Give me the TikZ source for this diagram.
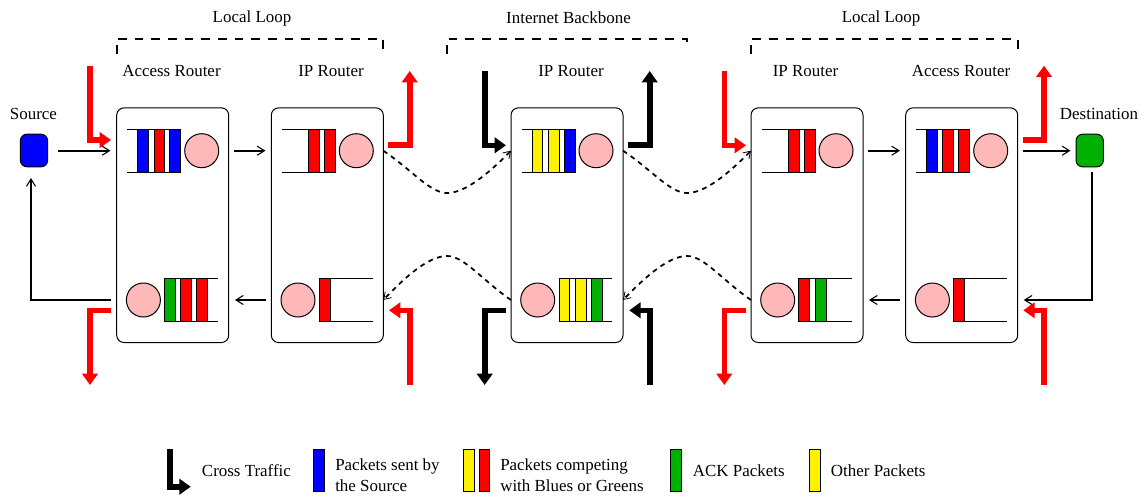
\documentclass[tikz,border=0pt]{standalone}
\usepackage{fontspec}
\setmainfont{Liberation Serif}
\usetikzlibrary{arrows.meta}
\definecolor{pk}{RGB}{255,184,184}
\definecolor{gr}{RGB}{0,176,0}
\tikzset{
  x=0.75pt,y=-0.75pt,
  every node/.style={font=\fontsize{12.7}{15}\selectfont},
  router/.style={draw=black,line width=0.75pt,rounded corners=5.5pt,minimum width=84pt,minimum height=176pt,inner sep=0pt,outer sep=0pt},
  pkt/.style={draw=black,line width=0.75pt,minimum width=8.2pt,minimum height=32pt,inner sep=0pt,outer sep=0pt},
  srv/.style={draw=black,fill=pk,line width=0.75pt,circle,minimum size=25.5pt,inner sep=0pt,outer sep=0pt},
  host/.style={draw=black,line width=0.75pt,rounded corners=5pt,minimum width=20.5pt,minimum height=24.5pt,inner sep=0pt,outer sep=0pt},
  qline/.style={line width=0.75pt},
  flow/.style={line width=1.25pt,-{Straight Barb[length=5.5pt,width=6.8pt,line width=0.8pt]}},
  wan/.style={line width=1.3pt,dash pattern=on 3.6pt off 3.4pt,-{Straight Barb[length=5pt,width=6.5pt,line width=0.6pt]}},
  bigred/.style={draw=red,line width=4.2pt,-{Triangle[length=8.5pt,width=11.5pt]}},
  bigblk/.style={draw=black,line width=4.2pt,-{Triangle[length=8.5pt,width=11.5pt]}},
  brk/.style={line width=1.5pt,dash pattern=on 6.5pt off 6pt},
}
\begin{document}
\begin{tikzpicture}
\useasboundingbox (0,0) rectangle (1141,497);
% routers
\node[router] (r1) at (172.7,225.2) {};
\node[router] (r2) at (327.3,225.2) {};
\node[router] (r3) at (567,225.2) {};
\node[router] (r4) at (807,225.2) {};
\node[router] (r5) at (961.7,225.2) {};
% hosts
\node[host,fill=blue] (src) at (34,150.5) {};
\node[host,fill=gr] (dst) at (1089.7,150.5) {};
\node (tsrc) at (33.5,113.5) {Source};
\node (tdst) at (1099,113.5) {Destination};
% labels
\node (ll1) at (252,18) {Local Loop};
\node (ib) at (568.5,18) {Internet Backbone};
\node (ll2) at (881,18) {Local Loop};
\node (a1) at (171.5,71) {Access Router};
\node (i1) at (331,71) {IP Router};
\node (i2) at (571,71) {IP Router};
\node (i3) at (805.5,71) {IP Router};
\node (a2) at (961,71) {Access Router};
% brackets
\draw[brk] (116.7,54) -- (116.7,38.7) -- (383.3,38.7) -- (383.3,54);
\draw[brk] (447.3,54) -- (447.3,38.7) -- (687,38.7) -- (687,47);
\draw[brk] (751,54) -- (751,38.7) -- (1017.7,38.7) -- (1017.7,54);
% queue lines: upper
\foreach \l in {116.7,271.3,511,751,905.7}{
  \draw[qline] (\l+10.7,129.3) -- (\l+64,129.3) (\l+10.7,172) -- (\l+64,172);
  \draw[qline] (\l+48,278.7) -- (\l+101.3,278.7) (\l+48,321.3) -- (\l+101.3,321.3);
}
% servers
\node[srv] (s1u) at (201.7,150.7) {};
\node[srv] (s2u) at (356.3,150.7) {};
\node[srv] (s3u) at (596,150.7) {};
\node[srv] (s4u) at (836,150.7) {};
\node[srv] (s5u) at (990.7,150.7) {};
\node[srv] (s1d) at (143.4,300) {};
\node[srv] (s2d) at (298,300) {};
\node[srv] (s3d) at (537.7,300) {};
\node[srv] (s4d) at (777.7,300) {};
\node[srv] (s5d) at (932.4,300) {};
% packets upper
\node[pkt,fill=blue] (p1a) at (143.2,150.7) {};
\node[pkt,fill=red] (p1b) at (159.5,150.7) {};
\node[pkt,fill=blue] (p1c) at (175.2,150.7) {};
\node[pkt,fill=red] (p2a) at (314.3,150.7) {};
\node[pkt,fill=red] (p2b) at (330.3,150.7) {};
\node[pkt,fill=yellow] (p3a) at (537.5,150.7) {};
\node[pkt,fill=yellow] (p3b) at (553.7,150.7) {};
\node[pkt,fill=blue] (p3c) at (569.7,150.7) {};
\node[pkt,fill=red] (p4a) at (793.8,150.7) {};
\node[pkt,fill=red] (p4b) at (810,150.7) {};
\node[pkt,fill=blue] (p5a) at (932,150.7) {};
\node[pkt,fill=red] (p5b) at (948.4,150.7) {};
\node[pkt,fill=red] (p5c) at (964.2,150.7) {};
% packets lower
\node[pkt,fill=gr] (q1a) at (169.8,300) {};
\node[pkt,fill=red] (q1b) at (186,300) {};
\node[pkt,fill=red] (q1c) at (202.2,300) {};
\node[pkt,fill=red] (q2a) at (324.6,300) {};
\node[pkt,fill=yellow] (q3a) at (564.5,300) {};
\node[pkt,fill=yellow] (q3b) at (581.2,300) {};
\node[pkt,fill=gr] (q3c) at (597.2,300) {};
\node[pkt,fill=red] (q4a) at (804.2,300) {};
\node[pkt,fill=gr] (q4b) at (820.6,300) {};
\node[pkt,fill=red] (q5a) at (959.2,300) {};
% thin flow connectors
\coordinate (e1) at (58,150.7); \coordinate (e2) at (110.5,150.7);
\coordinate (e3) at (234,150.7); \coordinate (e4) at (265.5,150.7);
\coordinate (e5) at (868.3,150.7); \coordinate (e6) at (900,150.7);
\coordinate (e7) at (1023,150.7); \coordinate (e8) at (1070.5,150.7);
\coordinate (e9) at (1092,172); \coordinate (e10) at (1092,300); \coordinate (e11) at (1023.7,300);
\coordinate (e12) at (900,300); \coordinate (e13) at (869,300);
\coordinate (e14) at (266,300); \coordinate (e15) at (235,300);
\coordinate (e16) at (111,300); \coordinate (e17) at (31,300); \coordinate (e18) at (31,178);
\draw[flow] (e1) -- (e2);
\draw[flow] (e3) -- (e4);
\draw[flow] (e5) -- (e6);
\draw[flow] (e7) -- (e8);
\draw[flow] (e9) -- (e10) -- (e11);
\draw[flow] (e12) -- (e13);
\draw[flow] (e14) -- (e15);
\draw[flow] (e16) -- (e17) -- (e18);
% dashed WAN curves
\draw[wan] (r2.east |- s2u) .. controls (412,170) and (430,193) .. (447,193) .. controls (465,193) and (488,174) .. (r3.west |- s3u);
\draw[wan] (r3.east |- s3u) .. controls (652,170) and (670,193) .. (687,193) .. controls (705,193) and (728,174) .. (r4.west |- s4u);
\draw[wan] (r3.west |- s3d) .. controls (482,280) and (464,256) .. (447,256) .. controls (429,256) and (406,276) .. (r2.east |- s2d);
\draw[wan] (r4.west |- s4d) .. controls (722,280) and (704,256) .. (687,256) .. controls (669,256) and (646,276) .. (r3.east |- s3d);
% big arrows
\coordinate (b1a) at (90,65.7); \coordinate (b1b) at (90,140); \coordinate (b1c) at (111,140);
\coordinate (b2a) at (388.3,145); \coordinate (b2b) at (409.7,145); \coordinate (b2c) at (409.7,71);
\coordinate (b3a) at (484.7,71); \coordinate (b3b) at (484.7,145.3); \coordinate (b3c) at (506,145.3);
\coordinate (b4a) at (628.3,145); \coordinate (b4b) at (649.7,145); \coordinate (b4c) at (649.7,71);
\coordinate (b5a) at (724.3,71); \coordinate (b5b) at (724.3,145.3); \coordinate (b5c) at (746,145.3);
\coordinate (b6a) at (1023,140); \coordinate (b6b) at (1044,140); \coordinate (b6c) at (1044,65.7);
\coordinate (c1a) at (111,310.3); \coordinate (c1b) at (90,310.3); \coordinate (c1c) at (90,385);
\coordinate (c2a) at (409.7,385); \coordinate (c2b) at (409.7,310.3); \coordinate (c2c) at (389,310.3);
\coordinate (c3a) at (506,310.3); \coordinate (c3b) at (484.7,310.3); \coordinate (c3c) at (484.7,385);
\coordinate (c4a) at (649.7,385); \coordinate (c4b) at (649.7,310.3); \coordinate (c4c) at (629.3,310.3);
\coordinate (c5a) at (746,310.3); \coordinate (c5b) at (724.3,310.3); \coordinate (c5c) at (724.3,385);
\coordinate (c6a) at (1044,385); \coordinate (c6b) at (1044,310.3); \coordinate (c6c) at (1023.3,310.3);
\draw[bigred] (b1a) -- (b1b) -- (b1c);
\draw[bigred] (b2a) -- (b2b) -- (b2c);
\draw[bigblk] (b3a) -- (b3b) -- (b3c);
\draw[bigblk] (b4a) -- (b4b) -- (b4c);
\draw[bigred] (b5a) -- (b5b) -- (b5c);
\draw[bigred] (b6a) -- (b6b) -- (b6c);
\draw[bigred] (c1a) -- (c1b) -- (c1c);
\draw[bigred] (c2a) -- (c2b) -- (c2c);
\draw[bigblk] (c3a) -- (c3b) -- (c3c);
\draw[bigblk] (c4a) -- (c4b) -- (c4c);
\draw[bigred] (c5a) -- (c5b) -- (c5c);
\draw[bigred] (c6a) -- (c6b) -- (c6c);
% legend
\coordinate (la) at (170,449); \coordinate (lb) at (170,486.7); \coordinate (lc) at (190.7,486.7);
\draw[bigblk] (la) -- (lb) -- (lc);
\node[anchor=west,inner sep=0pt] (t1) at (201.7,471) {Cross Traffic};
\node[pkt,fill=blue] (l1) at (319.2,470.5) {};
\node[anchor=west,inner sep=0pt] (t2a) at (335,466) {Packets sent by};
\node[anchor=west,inner sep=0pt] (t2b) at (335,486) {the Source};
\node[pkt,fill=yellow] (l2) at (468.7,470.5) {};
\node[pkt,fill=red] (l3) at (484.5,470.5) {};
\node[anchor=west,inner sep=0pt] (t3a) at (500,466) {Packets competing};
\node[anchor=west,inner sep=0pt] (t3b) at (500,486) {with Blues or Greens};
\node[pkt,fill=gr] (l4) at (676.3,470.5) {};
\node[anchor=west,inner sep=0pt] (t4) at (692.7,471) {ACK Packets};
\node[pkt,fill=yellow] (l5) at (815,470.5) {};
\node[anchor=west,inner sep=0pt] (t5) at (830.7,471) {Other Packets};
\end{tikzpicture}
\end{document}
